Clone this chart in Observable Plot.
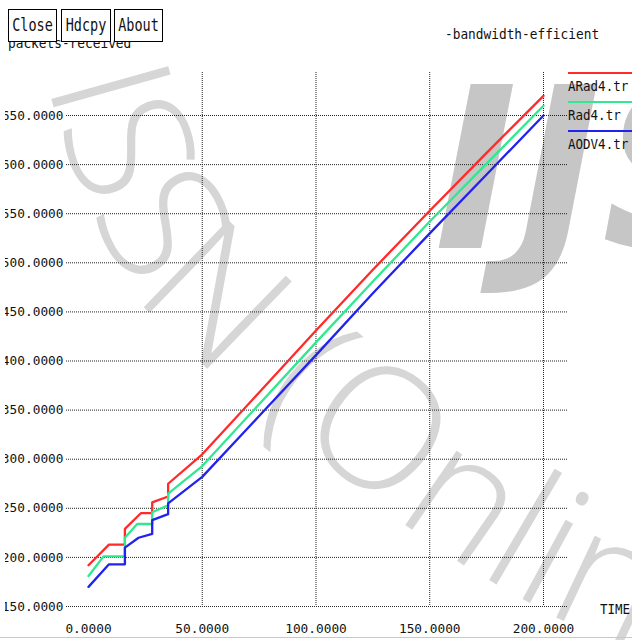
<!DOCTYPE html>
<html><head><meta charset="utf-8">
<script src="https://cdn.jsdelivr.net/npm/d3@7"></script>
<script src="https://cdn.jsdelivr.net/npm/@observablehq/plot@0.6"></script>
<style>
html,body{margin:0;padding:0;background:#fff;}
#wrap{position:relative;width:632px;height:640px;overflow:hidden;font-family:"DejaVu Sans Mono",monospace;color:#111;}
#wm{position:absolute;left:0;top:0;z-index:0;}
#chart{position:absolute;left:0;top:0;z-index:1;}
.ov{position:absolute;z-index:2;white-space:nowrap;line-height:16px;}
.ov span{display:inline-block;transform:scaleY(1.15);}
.btn{position:absolute;z-index:3;top:9px;height:33px;border:1px solid #000;background:#fff;box-sizing:border-box;font-size:13.5px;line-height:31px;text-align:center;color:#111;}
.btn span{display:inline-block;transform:scaleY(1.3);}
.lg{position:absolute;z-index:2;left:568px;width:64px;height:2px;}
</style>
</head><body>
<div id="wrap">
<svg id="wm" width="632" height="640">
  <defs><path id="arc" d="M 47,82 Q 95,270 189,350 T 400,520 T 700,680"/></defs>
  <text font-family="Open Sans" font-weight="300" font-size="170" fill="#d6d6d6"><textPath href="#arc">ISSN (Online)</textPath></text>
  <text x="434" y="248" font-family="DejaVu Sans" font-weight="bold" font-style="italic" font-size="225" fill="#c6c6c6">IJS</text>
</svg>
<div id="chart"></div>
</div>
<script>
// ---- data ----
const seriesNames = ["ARad4.tr", "Rad4.tr", "AODV4.tr"];
const seriesColors = ["#ff2a2a", "#30e890", "#2222ee"];

const aradX = [0, 9, 16, 16, 23, 28, 28, 35, 35, 50, 75, 100, 125, 150, 175, 200];
const aradY = [192, 213, 213, 229, 245, 245, 256, 262, 275, 305, 368, 431, 493, 553, 612, 670];

const radX = [0, 6.6, 16, 16, 21.4, 28, 28, 35, 35, 50, 75, 100, 125, 150, 175, 200];
const radY = [181, 201, 201, 220, 234, 234, 246, 253, 265, 293, 356, 419, 481, 542, 601, 660];

const aodvX = [0, 9, 16, 16, 22, 28, 28, 35, 35, 50, 75, 100, 125, 150, 175, 200];
const aodvY = [170, 193, 193, 210, 220, 224, 238, 244, 255, 282, 344, 406, 469, 530, 590, 650];

const xTicks = [0, 50, 100, 150, 200];
const xGrid = [50, 100, 150, 200];
const yTicks = [150, 200, 250, 300, 350, 400, 450, 500, 550, 600, 650];

const titleText = "-bandwidth-efficient";
const yLabel = "packets-received";
const xLabel = "TIME";
const buttons = ["Close", "Hdcpy", "About"];

// ---- build ----
const seriesX = [aradX, radX, aodvX];
const seriesY = [aradY, radY, aodvY];
const rows = seriesNames.flatMap((name, s) => seriesX[s].map((x, i) => ({series: name, x, y: seriesY[s][i]})));
const fmt = d => d.toFixed(4);

const chart = Plot.plot({
  width: 632, height: 640,
  marginLeft: 66, marginRight: 65, marginTop: 72, marginBottom: 34,
  style: {background: "transparent", fontFamily: "DejaVu Sans Mono", fontSize: "12.8px", color: "#111"},
  x: {domain: [-9.67, 210.55]},
  y: {domain: [150, 693.8]},
  color: {domain: seriesNames, range: seriesColors},
  marks: [
    Plot.ruleY(yTicks, {stroke: "#222", strokeWidth: 1, strokeDasharray: "1,1"}),
    Plot.ruleX(xGrid, {stroke: "#222", strokeWidth: 1, strokeDasharray: "1,1"}),
    Plot.axisX(xTicks, {tickSize: 0, tickPadding: 17, tickFormat: fmt, label: null, fontSize: 12.8}),
    Plot.axisY(yTicks, {tickSize: 0, tickPadding: 3, tickFormat: fmt, label: null, fontSize: 12.8}),
    Plot.line(rows, {x: "x", y: "y", z: "series", stroke: "series", strokeWidth: 2.3})
  ]
});
document.getElementById("chart").appendChild(chart);

const wrap = document.getElementById("wrap");
function ov(text, left, top, size) {
  const d = document.createElement("div");
  d.className = "ov";
  d.style.left = left + "px"; d.style.top = top + "px";
  d.style.fontSize = (size || 12.8) + "px";
  const s = document.createElement("span"); s.textContent = text; d.appendChild(s);
  wrap.appendChild(d);
  return d;
}
ov(yLabel, 8, 35);
ov(titleText, 445, 26);
ov(xLabel, 600, 601, 12.5);

const btnPos = [[8, 49], [61, 50], [114, 49]];
buttons.forEach((b, i) => {
  const d = document.createElement("div");
  d.className = "btn";
  d.style.left = btnPos[i][0] + "px"; d.style.width = btnPos[i][1] + "px";
  const s = document.createElement("span"); s.textContent = b; d.appendChild(s);
  wrap.appendChild(d);
});

const lgTop = [72, 101, 130];
seriesNames.forEach((n, i) => {
  const l = document.createElement("div");
  l.className = "lg"; l.style.top = lgTop[i] + "px"; l.style.background = seriesColors[i];
  wrap.appendChild(l);
  ov(n, 568, lgTop[i] + 6, 12.5);
});
// left clip strip over y labels and bottom window border
const clip = document.createElement("div");
Object.assign(clip.style, {position: "absolute", left: "0px", top: "95px", width: "5px", height: "525px", background: "#fff", zIndex: 2});
wrap.appendChild(clip);
const bl = document.createElement("div");
Object.assign(bl.style, {position: "absolute", left: "0px", top: "637px", width: "632px", height: "1px", background: "#c8c8c8", zIndex: 2});
wrap.appendChild(bl);
</script>
</body></html>
